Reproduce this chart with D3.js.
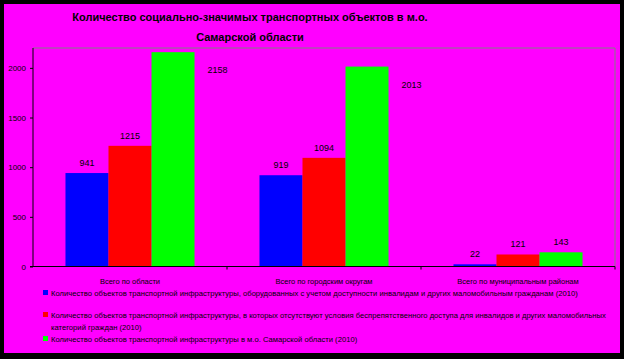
<!DOCTYPE html>
<meta charset="utf-8">
<style>
body { margin: 0; background: #000; }
svg { display: block; }
.title { font: bold 11px "Liberation Sans", Arial, sans-serif; fill: #000; }
.ytick text { font: 8px "Liberation Sans", Arial, sans-serif; }
.cat { font: 7.5px "Liberation Sans", Arial, sans-serif; }
.val { font: 9px "Liberation Sans", Arial, sans-serif; }
.leg { font: 7.65px "Liberation Sans", Arial, sans-serif; }
</style>
<svg width="624" height="359"></svg>
<script src="https://d3js.org/d3.v7.min.js"></script>
<script>
var categories = ["Всего по области", "Всего по городским округам", "Всего по муниципальным районам"];
var seriesNames = [
  "Количество объектов транспортной инфраструктуры, оборудованных с учетом доступности инвалидам и других маломобильным гражданам (2010)",
  "Количество объектов транспортной инфраструктуры, в которых отсутствуют условия беспрепятственного доступа для инвалидов и других маломобильных|категорий граждан (2010)",
  "Количество объектов транспортной инфраструктуры в м.о. Самарской области (2010)"
];
var equipped = [941, 919, 22];
var noAccess = [1215, 1094, 121];
var total = [2158, 2013, 143];
var yTicks = [0, 500, 1000, 1500, 2000];
var colors = ["#0000ff", "#ff0000", "#00ff00"];
var titleLines = ["Количество социально-значимых транспортных объектов в м.о.", "Самарской области"];

var svg = d3.select("svg");
var W = 624, H = 359;
var plot = {left: 33, right: 615, top: 48, bottom: 266.5};

svg.append("rect").attr("width", W).attr("height", H).attr("fill", "#000");
svg.append("rect").attr("x", 4).attr("y", 4).attr("width", 616).attr("height", 349).attr("fill", "#ff00ff");

// title
svg.selectAll("text.title").data(titleLines).enter().append("text")
    .attr("class", "title")
    .attr("x", 250)
    .attr("y", function(d, i) { return 21 + i * 20; })
    .attr("text-anchor", "middle")
    .text(function(d) { return d; });

var x0 = d3.scaleBand().domain(categories).range([plot.left, plot.right]).paddingInner(0).paddingOuter(0);
var x1 = d3.scaleBand().domain([0, 1, 2]).range([0, x0.bandwidth()]).paddingInner(0).paddingOuter(0.755);
var y = d3.scaleLinear().domain([0, 2200]).range([plot.bottom, plot.top]);

var data = categories.map(function(c, i) {
  return {cat: c, vals: [equipped[i], noAccess[i], total[i]]};
});

// plot frame: grey top and right
svg.append("line").attr("x1", plot.left).attr("x2", plot.right).attr("y1", plot.top).attr("y2", plot.top)
    .attr("stroke", "#808080").attr("stroke-width", 1);
svg.append("line").attr("x1", plot.right).attr("x2", plot.right).attr("y1", plot.top).attr("y2", plot.bottom)
    .attr("stroke", "#808080").attr("stroke-width", 1);

// bars
var g = svg.append("g").selectAll("g").data(data).enter().append("g")
    .attr("transform", function(d) { return "translate(" + x0(d.cat) + ",0)"; });

g.selectAll("rect").data(function(d) { return d.vals; }).enter().append("rect")
    .attr("x", function(d, i) { return x1(i); })
    .attr("width", x1.bandwidth())
    .attr("y", function(d) { return y(d); })
    .attr("height", function(d) { return y(0) - y(d); })
    .attr("fill", function(d, i) { return colors[i]; });

g.selectAll("text").data(function(d) { return d.vals; }).enter().append("text")
    .attr("class", "val")
    .attr("text-anchor", "middle")
    .attr("x", function(d, i) {
      if (d > 2000) return x1(i) + x1.bandwidth() + 23;
      return x1(i) + x1.bandwidth() / 2;
    })
    .attr("y", function(d) {
      if (d > 2000) return y(d) + 21;
      return y(d) - 7;
    })
    .text(function(d) { return d; });

// y axis
var yAxis = d3.axisLeft(y).tickValues(yTicks).tickFormat(d3.format("d")).tickSize(3).tickPadding(4);
var ya = svg.append("g").attr("class", "ytick").attr("transform", "translate(" + plot.left + ",0)").call(yAxis);
ya.select(".domain").attr("stroke", "#000").attr("d", "M0," + plot.top + "V" + plot.bottom);
ya.selectAll("line").attr("stroke", "#000");
ya.selectAll("text").attr("fill", "#000");

// x axis
var xa = svg.append("g").attr("transform", "translate(0," + plot.bottom + ")");
xa.append("line").attr("x1", plot.left - 3).attr("x2", plot.right).attr("stroke", "#000");
xa.selectAll("line.tk").data(categories).enter().append("line").attr("class", "tk")
    .attr("x1", function(d) { return x0(d) + x0.bandwidth(); })
    .attr("x2", function(d) { return x0(d) + x0.bandwidth(); })
    .attr("y1", 0).attr("y2", 3).attr("stroke", "#000");
xa.selectAll("text").data(categories).enter().append("text")
    .attr("class", "cat")
    .attr("text-anchor", "middle")
    .attr("x", function(d) { return x0(d) + x0.bandwidth() / 2; })
    .attr("y", 17)
    .text(function(d) { return d; });

// legend
var legY = [293, 315, 339];
var leg = svg.append("g").selectAll("g").data(seriesNames).enter().append("g")
    .attr("transform", function(d, i) { return "translate(43," + legY[i] + ")"; });
leg.append("rect").attr("x", 0).attr("y", -3).attr("width", 5).attr("height", 5)
    .attr("fill", function(d, i) { return colors[i]; });
leg.each(function(d) {
  var parts = d.split("|");
  var t = d3.select(this).append("text").attr("class", "leg").attr("x", 8).attr("y", 2.5);
  parts.forEach(function(p, k) {
    t.append("tspan").attr("x", 8).attr("dy", k === 0 ? 0 : 12).text(p);
  });
});
</script>
